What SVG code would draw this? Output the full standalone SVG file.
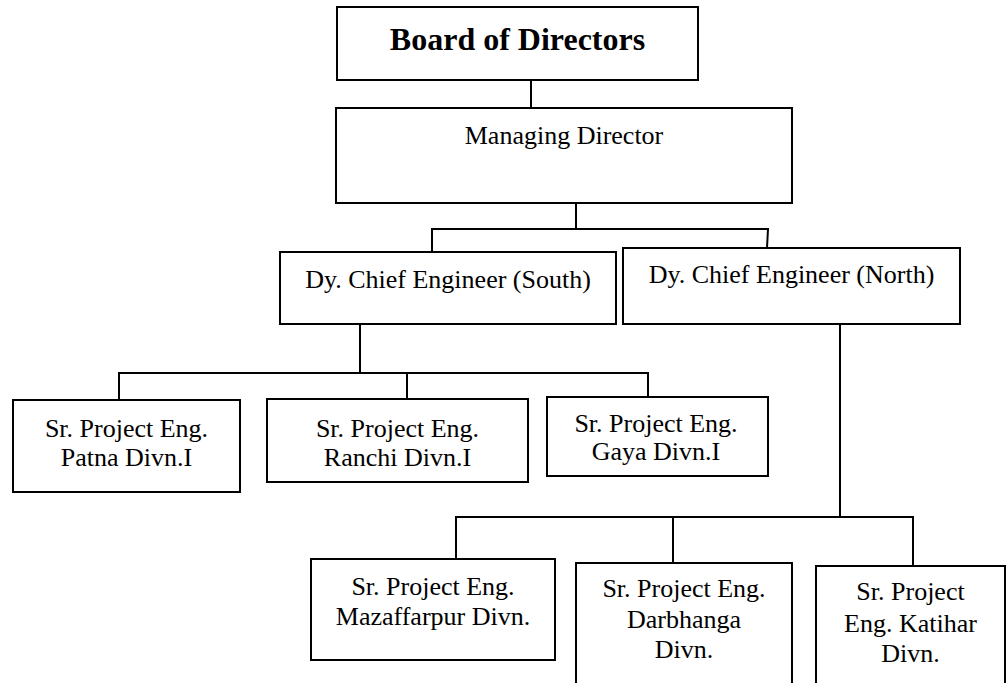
<svg xmlns="http://www.w3.org/2000/svg" width="1008" height="683" viewBox="0 0 1008 683">
<style>
.box{fill:#fff;stroke:#000;stroke-width:2}
.t{font-family:"Liberation Serif","Times New Roman",serif;font-size:26px;fill:#000;text-anchor:middle}
.b{font-weight:bold;font-size:32px}
.c{fill:none;stroke:#000;stroke-width:2}
</style>
<rect width="1008" height="683" fill="#fff"/>
<g id="connectors">
<path class="c" d="M531 80V108"/>
<path class="c" d="M576 203V229"/>
<path class="c" d="M432 252V229H768L767 248"/>
<path class="c" d="M360 324V373"/>
<path class="c" d="M119 400V373H648V397"/>
<path class="c" d="M407 373V399"/>
<path class="c" d="M840 324V517"/>
<path class="c" d="M456 559V517H913V566"/>
<path class="c" d="M673 517V566"/>
</g>
<g id="board">
<rect class="box" x="337" y="7" width="361" height="73"/>
<text class="t b" x="517.5" y="50">Board of Directors</text>
</g>
<g id="md">
<rect class="box" x="336" y="108" width="456" height="95"/>
<text class="t" x="564" y="144">Managing Director</text>
</g>
<g id="south">
<rect class="box" x="280" y="252" width="336" height="72"/>
<text class="t" x="448" y="288">Dy. Chief Engineer (South)</text>
</g>
<g id="north">
<rect class="box" x="623" y="248" width="337" height="76"/>
<text class="t" x="791.5" y="283">Dy. Chief Engineer (North)</text>
</g>
<g id="patna">
<rect class="box" x="13" y="400" width="227" height="92"/>
<text class="t" x="126.5" y="437">Sr. Project Eng.</text>
<text class="t" x="126.5" y="466">Patna Divn.I</text>
</g>
<g id="ranchi">
<rect class="box" x="267" y="399" width="261" height="83"/>
<text class="t" x="397.5" y="437">Sr. Project Eng.</text>
<text class="t" x="397.5" y="466">Ranchi Divn.I</text>
</g>
<g id="gaya">
<rect class="box" x="547" y="397" width="221" height="79"/>
<text class="t" x="656" y="432">Sr. Project Eng.</text>
<text class="t" x="656" y="460">Gaya Divn.I</text>
</g>
<g id="mazaffarpur">
<rect class="box" x="311" y="559" width="244" height="101"/>
<text class="t" x="433" y="595">Sr. Project Eng.</text>
<text class="t" x="433" y="625">Mazaffarpur Divn.</text>
</g>
<g id="darbhanga">
<rect class="box" x="576" y="563" width="216" height="130"/>
<text class="t" x="684" y="597">Sr. Project Eng.</text>
<text class="t" x="684" y="628">Darbhanga</text>
<text class="t" x="684" y="658">Divn.</text>
</g>
<g id="katihar">
<rect class="box" x="816" y="566" width="189" height="127"/>
<text class="t" x="910.5" y="600">Sr. Project</text>
<text class="t" x="910.5" y="632">Eng. Katihar</text>
<text class="t" x="910.5" y="662">Divn.</text>
</g>
</svg>
